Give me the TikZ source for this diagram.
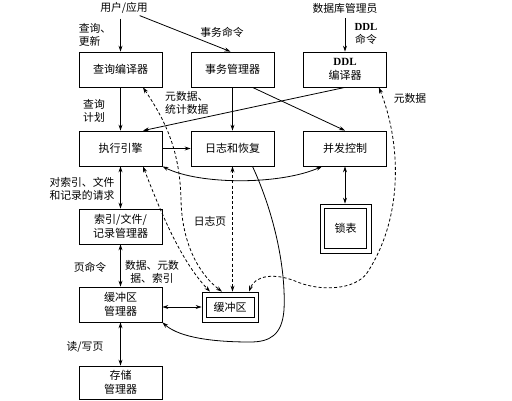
\documentclass[tikz,border=0pt]{standalone}
\usepackage{fontspec}
\setmainfont{Liberation Serif}
\newfontfamily\cjk{Noto Sans CJK SC}
\usetikzlibrary{arrows.meta}
\begin{document}
\begin{tikzpicture}[x=1pt,y=-1pt,
  blk/.style={draw, line width=0.8pt, minimum width=83pt, minimum height=35pt, inner sep=1pt, align=center, font=\cjk\fontsize{11}{13.5}\selectfont},
  inbox/.style={draw, line width=0.8pt, inner sep=0pt},
  lbl/.style={inner sep=0pt, align=center, font=\cjk\fontsize{10.8}{12.5}\selectfont},
  conn/.style={line width=0.8pt, -{Stealth[length=6pt,width=4pt]}},
  biarr/.style={line width=0.8pt, {Stealth[length=6pt,width=4pt]}-{Stealth[length=6pt,width=4pt]}},
  dsh/.style={biarr, dash pattern=on 3pt off 2.2pt},
]
\useasboundingbox (0,0) rectangle (512,400);
% nodes
\node[lbl] (user) at (124,8) {用户/应用};
\node[lbl] (dba) at (345,8) {数据库管理员};
\node[blk] (qc) at (120.5,69.5) {查询编译器};
\node[blk] (tm) at (232.5,69.5) {事务管理器};
\node[blk] (ddl) at (345,69.5) {{\rmfamily\bfseries DDL}\\编译器};
\node[blk] (ee) at (120.5,148.5) {执行引擎};
\node[blk] (lr) at (232.5,148.5) {日志和恢复};
\node[blk] (cc) at (345,148.5) {并发控制};
\node[blk, minimum width=51pt, minimum height=49pt] (lock) at (345.5,228.5) {锁表};
\node[inbox, minimum width=42pt, minimum height=40pt] (lockin) at (lock.center) {};
\node[blk] (idx) at (120.5,226.5) {索引/文件/\\记录管理器};
\node[blk] (bm) at (120.5,304.5) {缓冲区\\管理器};
\node[blk, minimum width=56pt, minimum height=30pt] (buf) at (230,307) {缓冲区};
\node[inbox, minimum width=48pt, minimum height=20pt] (bufin) at (buf.center) {};
\node[blk, minimum height=33pt] (sm) at (120.5,382.5) {存储\\管理器};
% labels
\node[lbl, align=left] (l1) at (95,35) {查询、\\更新};
\node[lbl] (l2) at (222,32) {事务命令};
\node[lbl] (l3) at (366,34) {{\rmfamily\bfseries DDL}\\命令};
\node[lbl] (l4) at (94,111) {查询\\计划};
\node[lbl, align=left, anchor=west] (l5) at (165,103) {元数据、\\统计数据};
\node[lbl] (l6) at (410,98) {元数据};
\node[lbl] (l7) at (82,189) {对索引、文件\\和记录的请求};
\node[lbl] (l8) at (210,221) {日志页};
\node[lbl] (l9) at (90,267) {页命令};
\node[lbl] (l10) at (152,272) {数据、元数\\据、索引};
\node[lbl] (l11) at (85,347) {读/写页};
% solid connectors
\draw[conn, shorten <=5pt] (qc.north |- user.south) -- (qc.north);
\draw[conn, shorten <=5pt] ([xshift=11pt]user.south) -- ([xshift=-2pt]tm.north);
\draw[conn, shorten <=5pt] (dba.south) -- (dba.south |- ddl.north);
\draw[conn] (qc) -- (ee);
\draw[conn] (tm) -- (lr);
\draw[conn] ([xshift=20pt]tm.south) -- (cc.north);
\draw[conn] (ddl.south) -- ([xshift=22.5pt]ee.north);
\draw[conn] (ee) -- (lr);
\draw[biarr] (ee.south east) .. controls (200,185) and (280,185) .. ([xshift=19pt]cc.south west);
\draw[biarr] (cc.south) -- (cc.south |- lock.north);
\draw[biarr] (ee) -- (idx);
\draw[biarr] (idx) -- (bm);
\draw[biarr] (bm.east |- buf.west) -- (buf.west);
\draw[biarr] (bm) -- (sm);
\draw[conn] ([xshift=20pt]lr.south) .. controls (275,215) and (286,270) .. (284,310) .. controls (282,335) and (270,342) .. (250,342) .. controls (215,342) and (180,338) .. (bm.south east);
% dashed connectors
\draw[dsh] ([xshift=22.5pt]qc.south) .. controls (165,120) and (180,150) .. (181,200) .. controls (182,245) and (200,275) .. ([xshift=-8pt]buf.north);
\draw[dsh] ([xshift=22.5pt]ee.south) .. controls (160,210) and (180,260) .. ([xshift=-20pt]buf.north);
\draw[dsh] (lr.south) -- (lr.south |- buf.north);
\draw[dsh] ([xshift=-8pt]ddl.south east) .. controls (400,140) and (405,215) .. (367,273) .. controls (355,290) and (320,292) .. (295,281) .. controls (275,273) and (255,275) .. ([xshift=19pt]buf.north);
\end{tikzpicture}
\end{document}
